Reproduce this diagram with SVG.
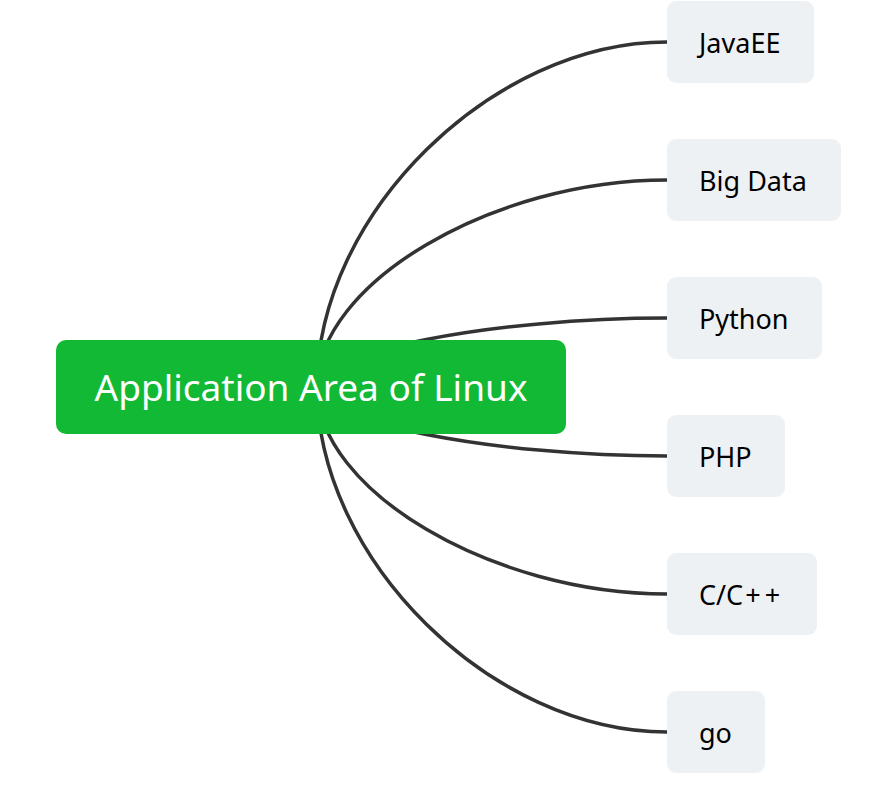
<svg xmlns="http://www.w3.org/2000/svg" width="883" height="785" viewBox="0 0 883 785">
<style>
.edge{fill:none;stroke:#333333;stroke-width:3.5;stroke-linecap:butt}
.leaf rect{fill:#eef1f4}
.leaf text{font-family:"Noto Sans","Open Sans","Liberation Sans",sans-serif;font-size:27px;fill:#000000}
.root rect{fill:#12b935}
.root text{font-family:"Noto Sans","Open Sans","Liberation Sans",sans-serif;font-size:37px;fill:#ffffff;text-anchor:middle}
</style>
<rect width="883" height="785" fill="#ffffff"/>
<g id="connectors">
<path class="edge" d="M317 387 C317 214.5 492 42 667 42"/>
<path class="edge" d="M317 387 C317 283.5 492 180 667 180"/>
<path class="edge" d="M317 387 C317 352.5 492 318 667 318"/>
<path class="edge" d="M317 387 C317 421.5 492 456 667 456"/>
<path class="edge" d="M317 387 C317 490.5 492 594 667 594"/>
<path class="edge" d="M317 387 C317 559.5 492 732 667 732"/>
</g>
<g id="root" class="root">
<rect x="56" y="340" width="510" height="94" rx="10"/>
<text x="311" y="401">Application Area of Linux</text>
</g>
<g id="n-javaee" class="leaf">
<rect x="667" y="1" width="147" height="82" rx="9"/>
<text x="699" y="53">JavaEE</text>
</g>
<g id="n-bigdata" class="leaf">
<rect x="667" y="139" width="174" height="82" rx="9"/>
<text x="699" y="191">Big Data</text>
</g>
<g id="n-python" class="leaf">
<rect x="667" y="277" width="155" height="82" rx="9"/>
<text x="699" y="329">Python</text>
</g>
<g id="n-php" class="leaf">
<rect x="667" y="415" width="118" height="82" rx="9"/>
<text x="699" y="467">PHP</text>
</g>
<g id="n-cpp" class="leaf">
<rect x="667" y="553" width="150" height="82" rx="9"/>
<text x="699" y="605">C/C<tspan dx="2" letter-spacing="4">++</tspan></text>
</g>
<g id="n-go" class="leaf">
<rect x="667" y="691" width="98" height="82" rx="9"/>
<text x="699" y="743">go</text>
</g>
</svg>
